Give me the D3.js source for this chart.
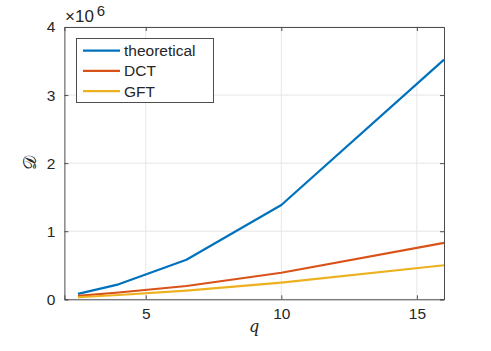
<!DOCTYPE html>
<html><head><meta charset="utf-8">
<script src="https://cdn.jsdelivr.net/npm/d3@7"></script>
<style>body{margin:0;background:#fff}svg{display:block}text{font-family:"Liberation Sans",Arial,Helvetica,sans-serif}</style>
</head><body>
<svg id="c" width="491" height="351"></svg>
<script>
const qValues = [2.5, 4, 6.5, 10, 16];
const theoretical = [0.08, 0.22, 0.58, 1.385, 3.52];
const dct = [0.05, 0.10, 0.195, 0.39, 0.83];
const gft = [0.03, 0.063, 0.127, 0.245, 0.50];
const seriesNames = ["theoretical", "DCT", "GFT"];
const seriesColors = ["#0072BD", "#D95319", "#EDB120"];
const xTicks = [5, 10, 15];
const yTicks = [0, 1, 2, 3, 4];

const svg = d3.select("#c");
const L = 64.4, R = 444, T = 27, B = 299.3;
const x = d3.scaleLinear().domain([2, 16]).range([L, R]);
const y = d3.scaleLinear().domain([0, 4]).range([B, T]);
const FS = "15.5px";

// grid
const g = svg.append("g");
g.selectAll(".gx").data(xTicks).enter().append("line")
  .attr("x1", d => x(d)).attr("x2", d => x(d)).attr("y1", T).attr("y2", B)
  .attr("stroke", "#e6e6e6").attr("stroke-width", 1);
g.selectAll(".gy").data(yTicks).enter().append("line")
  .attr("y1", d => y(d)).attr("y2", d => y(d)).attr("x1", L).attr("x2", R)
  .attr("stroke", "#e6e6e6").attr("stroke-width", 1);

// axes
const axColor = "#4d4d4d";
const fmt = d3.format("d");
const xb = svg.append("g").attr("transform", `translate(0,${B})`)
  .call(d3.axisBottom(x).tickValues(xTicks).tickSize(-4).tickPadding(9).tickFormat(fmt));
const xt = svg.append("g").attr("transform", `translate(0,${T})`)
  .call(d3.axisTop(x).tickValues(xTicks).tickSize(-4).tickFormat(""));
const yl = svg.append("g").attr("transform", `translate(${L},0)`)
  .call(d3.axisLeft(y).tickValues(yTicks).tickSize(-4).tickPadding(9).tickFormat(fmt));
const yr = svg.append("g").attr("transform", `translate(${R},0)`)
  .call(d3.axisRight(y).tickValues(yTicks).tickSize(-4).tickFormat(""));
[xb, xt, yl, yr].forEach(a => {
  a.selectAll("path").attr("stroke", axColor).attr("stroke-width", 1);
  a.selectAll("line").attr("stroke", axColor);
  a.selectAll("text").attr("fill", "#262626").style("font-size", FS).style("font-family", '"Liberation Sans",Arial,sans-serif');
});

// exponent label
const ex = svg.append("text").attr("x", 65).attr("y", 21.5).attr("fill", "#262626")
  .style("font-size", "17px").style("font-family", '"Liberation Sans",Arial,sans-serif');
ex.append("tspan").style("font-size", "17px").text("×10");
ex.append("tspan").attr("dx", 3).attr("dy", -6).style("font-size", "15px").text("6");

// axis labels
svg.append("text").attr("x", 254).attr("y", 332).attr("text-anchor", "middle")
  .style("font-family", '"DejaVu Serif","Liberation Serif",serif').style("font-style", "italic").style("font-size", "16px")
  .attr("fill", "#262626").text("q");
svg.append("text").attr("transform", "translate(36,163) rotate(-90)").attr("text-anchor", "middle")
  .style("font-family", '"DejaVu Serif","Liberation Serif",serif').style("font-size", "18px")
  .attr("fill", "#262626").text("𝒟");

// lines
const data = [theoretical, dct, gft];
const line = d3.line().x((d, i) => x(qValues[i])).y(d => y(d));
svg.selectAll(".ln").data(data).enter().append("path")
  .attr("d", d => line(d)).attr("fill", "none")
  .attr("stroke", (d, i) => seriesColors[i]).attr("stroke-width", 2.2)
  .attr("stroke-linejoin", "round");

// legend
const lg = svg.append("g");
lg.append("rect").attr("x", 76.5).attr("y", 38.5).attr("width", 137).attr("height", 64)
  .attr("fill", "#fff").attr("stroke", axColor).attr("stroke-width", 1);
seriesNames.forEach((n, i) => {
  const yy = 50.7 + i * 20.2;
  lg.append("line").attr("x1", 83).attr("x2", 120).attr("y1", yy).attr("y2", yy)
    .attr("stroke", seriesColors[i]).attr("stroke-width", 2.2);
  lg.append("text").attr("x", 124).attr("y", yy + 5.5).attr("fill", "#262626")
    .style("font-size", FS).text(n);
});
</script>
</body></html>
